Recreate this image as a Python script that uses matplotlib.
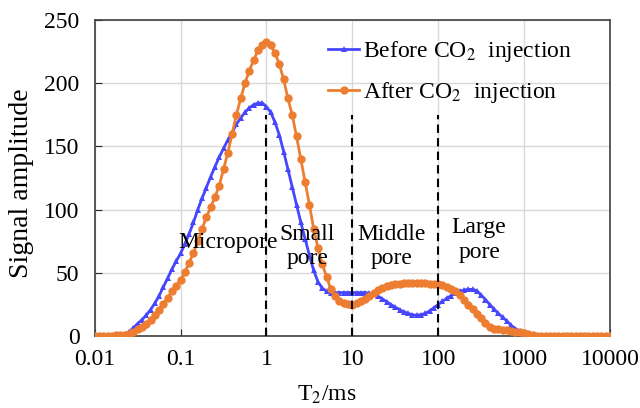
import numpy as np
import matplotlib
matplotlib.use("Agg")
import matplotlib.pyplot as plt

plt.rcParams['font.family'] = ['Liberation Serif', 'DejaVu Serif']
plt.rcParams['mathtext.fontset'] = 'stix'

# T2 grid (ms): 20 points per decade, 0.01 .. 10000
t2 = np.logspace(-2, 4, 121)

before = [
    0, 0, 0, 0, 0.1, 0.3, 0.8, 1.8, 3.5, 6.5,
    10, 13, 16.5, 21, 26, 32, 39, 46, 53, 59.5,
    65.4, 73, 81, 90, 100, 109, 117.5, 126, 134, 141.5,
    148.5, 155, 161, 167.5, 172.5, 177, 180.5, 183, 184.3, 184.5,
    181.5, 177, 169, 159, 146, 132, 118, 104, 90, 77,
    64, 52, 43, 38, 35.5, 34.5, 34.5, 34.5, 34.5, 34.5,
    34.5, 34.5, 34.5, 34.5, 34, 33, 31.5, 29.5, 27.3, 25,
    23, 21, 19.3, 18, 17, 16.6, 17, 18, 20, 22.5,
    25, 27.5, 30, 32, 34, 35.5, 36.5, 37, 37, 36,
    32.5, 29, 25, 21.5, 18, 15, 12, 8.5, 6, 4,
    2, 0.8, 0.3, 0, 0, 0, 0, 0, 0, 0,
    0, 0, 0, 0, 0, 0, 0, 0, 0, 0,
    0,
]

after = [
    0, 0, 0.1, 0.2, 0.4, 0.7, 1, 1.3, 2, 3.5,
    5.5, 7.5, 10, 13, 16.6, 21, 25.5, 30.5, 35.5, 40,
    44.5, 50.5, 58, 66, 75, 85, 94, 102, 110, 119,
    132, 145, 160, 175, 188, 200, 210, 218, 226, 230.5,
    232.5, 230, 224, 215, 203, 188, 175, 158, 140, 122,
    104, 85, 70, 57, 47, 37, 31.5, 28, 26.3, 25.3,
    25, 26, 27.5, 29.5, 32, 34.5, 36.5, 38.3, 39.5, 40.5,
    41.2, 41.5, 41.8, 42, 42, 42, 42, 41.8, 41.5, 41.3,
    41, 40.3, 39, 37.5, 35.5, 32.5, 28.5, 25, 21.5, 17.5,
    14, 10.5, 7.5, 5.8, 5.4, 5, 4.6, 4.0, 3.5, 3.0,
    2.5, 1.5, 0.8, 0.3, 0, 0, 0, 0, 0, 0,
    0, 0, 0, 0, 0, 0, 0, 0, 0, 0,
    0,
]

boundaries = [1, 10, 100]
boundary_top = 175
region_labels = ["Micropore", "Small\npore", "Middle\npore", "Large\npore"]
region_x = [0.36, 3.0, 29, 300]
region_y = [74, 71, 71, 76]

xticks = [0.01, 0.1, 1, 10, 100, 1000, 10000]
xticklabels = ["0.01", "0.1", "1", "10", "100", "1000", "10000"]
yticks = [0, 50, 100, 150, 200, 250]

blue = '#4646FF'
orange = '#ED7D31'

fig = plt.figure(figsize=(6.4, 4.08), dpi=100)
ax = fig.add_axes([0.148, 0.176, 0.805, 0.775])

ax.plot(t2, before, color=blue, lw=2.0, marker='^', ms=4.8, mew=0,
        label="Before CO$_2$  injection", zorder=3)
ax.plot(t2, after, color=orange, lw=2.0, marker='o', ms=6, mew=0,
        label="After CO$_2$  injection", zorder=4)

for b in boundaries:
    ax.vlines(b, 0, boundary_top, colors='black', linestyles=(0, (4, 2.5)), lw=1.5, zorder=5)

for lab, x, y in zip(region_labels, region_x, region_y):
    ax.text(x, y, lab, ha='center', va='center', fontsize=17, linespacing=1.22, zorder=6)

ax.set_xscale('log')
ax.set_xlim(0.01, 10000)
ax.set_ylim(0, 250)
ax.set_xticks(xticks)
ax.set_xticklabels(xticklabels)
ax.set_yticks(yticks)
ax.minorticks_off()
ax.tick_params(direction='in', length=5, labelsize=17, colors='#262626', labelcolor='black')
ax.tick_params(axis='x', pad=9)
ax.tick_params(axis='y', pad=11)
ax.grid(True, color='#d9d9d9', lw=1)
ax.set_axisbelow(True)
for s in ax.spines.values():
    s.set_color('#404040')
    s.set_linewidth(1.2)

ax.set_xlabel("T$_2$/ms", fontsize=17)
ax.xaxis.set_label_coords(0.45, -0.15)
ax.set_ylabel("Signal amplitude", fontsize=20)
ax.yaxis.set_label_coords(-0.118, 0.484)

leg = ax.legend(loc='upper left', bbox_to_anchor=(0.452, 0.94), frameon=False, fontsize=17,
                handlelength=1.35, handletextpad=0.15, labelspacing=0.7, borderaxespad=0,
                borderpad=0)

fig.savefig('out.png', dpi=100)
